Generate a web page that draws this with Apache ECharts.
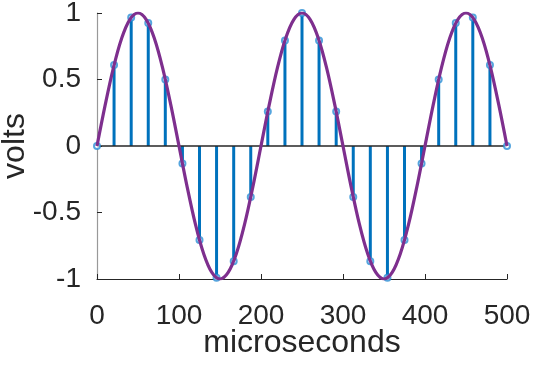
<!DOCTYPE html>
<html>
<head>
<meta charset="utf-8">
<script src="https://cdn.jsdelivr.net/npm/echarts@6/dist/echarts.min.js"></script>
<style>html,body{margin:0;padding:0;background:#fff;}#c{width:533px;height:366px;}</style>
</head>
<body>
<div id="c"></div>
<script>
// sample times (microseconds) and sampled volts
var sampleTimes = [0, 20.8, 41.7, 62.5, 83.3, 104.2, 125, 145.8, 166.7, 187.5, 208.3, 229.2, 250,
  270.8, 291.7, 312.5, 333.3, 354.2, 375, 395.8, 416.7, 437.5, 458.3, 479.2, 500];
var sampleVolts = [0, 0.609, 0.966, 0.924, 0.5, -0.131, -0.707, -0.991, -0.866, -0.383, 0.259, 0.793, 1,
  0.793, 0.259, -0.383, -0.866, -0.991, -0.707, -0.131, 0.5, 0.924, 0.966, 0.609, 0];
// continuous waveform, read every 10 microseconds
var curveTimes = [0,10,20,30,40,50,60,70,80,90,100,110,120,130,140,150,160,170,180,190,200,
  210,220,230,240,250,260,270,280,290,300,310,320,330,340,350,360,370,380,390,400,
  410,420,430,440,450,460,470,480,490,500];
var curveVolts = [0,0.309,0.588,0.809,0.951,1,0.951,0.809,0.588,0.309,0,
  -0.309,-0.588,-0.809,-0.951,-1,-0.951,-0.809,-0.588,-0.309,0,
  0.309,0.588,0.809,0.951,1,0.951,0.809,0.588,0.309,0,
  -0.309,-0.588,-0.809,-0.951,-1,-0.951,-0.809,-0.588,-0.309,0,
  0.309,0.588,0.809,0.951,1,0.951,0.809,0.588,0.309,0];
var xTicks = [0, 100, 200, 300, 400, 500];
var yTicks = [-1, -0.5, 0, 0.5, 1];
var xLabel = 'microseconds';
var yLabel = 'volts';

function pairs(xs, ys) { return xs.map(function (x, i) { return [x, ys[i]]; }); }

var font = 'Liberation Sans';
var chart = echarts.init(document.getElementById('c'));
chart.setOption({
  animation: false,
  grid: { left: 97, right: 26, top: 13, bottom: 87, containLabel: false, outerBoundsMode: 'none' },
  xAxis: {
    type: 'value', min: xTicks[0], max: xTicks[xTicks.length - 1], interval: 100,
    name: xLabel, nameLocation: 'middle', nameGap: 48, nameMoveOverlap: false,
    nameTextStyle: { fontFamily: font, fontSize: 32, color: '#262626' },
    axisLine: { onZero: false, lineStyle: { color: '#262626', width: 1.2 } },
    axisTick: { inside: true, length: 5, lineStyle: { color: '#262626' } },
    axisLabel: { fontFamily: font, fontSize: 28, color: '#262626', margin: 23 },
    splitLine: { show: false }
  },
  yAxis: {
    type: 'value', min: yTicks[0], max: yTicks[yTicks.length - 1], interval: 0.5,
    name: yLabel, nameLocation: 'middle', nameGap: 66, nameMoveOverlap: false,
    nameTextStyle: { fontFamily: font, fontSize: 32, color: '#262626' },
    axisLine: { onZero: false, lineStyle: { color: '#999999', width: 1.2 } },
    axisTick: { inside: true, length: 5, lineStyle: { color: '#262626' } },
    axisLabel: { fontFamily: font, fontSize: 28, color: '#262626', margin: 16 },
    splitLine: { show: false }
  },
  series: [
    {
      type: 'bar', data: pairs(sampleTimes, sampleVolts), barWidth: 3,
      itemStyle: { color: '#0072BD' }, z: 2, silent: true
    },
    {
      type: 'line', data: [[xTicks[0], 0], [xTicks[xTicks.length - 1], 0]], symbol: 'none',
      lineStyle: { color: '#262626', width: 1.5 }, z: 3, silent: true
    },
    {
      type: 'scatter', data: pairs(sampleTimes, sampleVolts), symbol: 'emptyCircle', symbolSize: 6,
      itemStyle: { color: '#2a8fd6', borderWidth: 1.2 }, z: 4, silent: true
    },
    {
      type: 'line', data: pairs(curveTimes, curveVolts), symbol: 'none', smooth: 0.35,
      lineStyle: { color: '#7E2F8E', width: 3.2 }, z: 5, silent: true
    }
  ]
});
</script>
</body>
</html>
